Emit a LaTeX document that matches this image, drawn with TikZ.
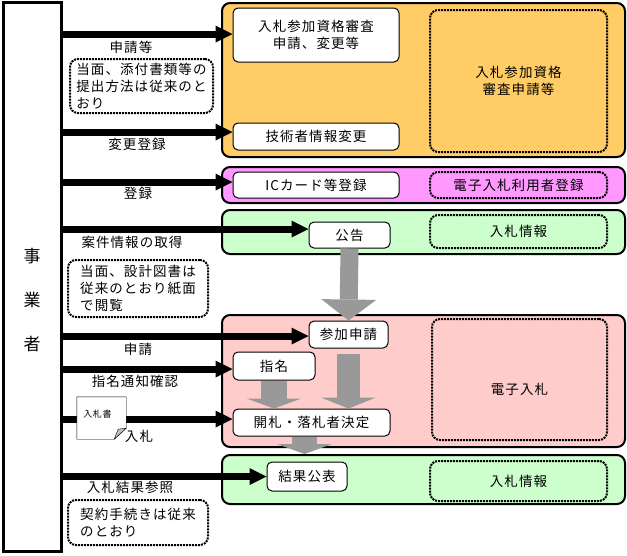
\documentclass[tikz,border=0pt]{standalone}
\usepackage{fontspec}
\setmainfont{Noto Sans CJK JP}[LetterSpace=8]
\usetikzlibrary{positioning}
\usetikzlibrary{arrows.meta}

\definecolor{qualorange}{HTML}{FFCC66}
\definecolor{userpink}{HTML}{FF99FF}
\definecolor{infogreen}{HTML}{CCFFCC}
\definecolor{bidpink}{HTML}{FFCCCC}
\definecolor{flowgray}{HTML}{999999}

\begin{document}
\begin{tikzpicture}[x=1pt,y=-1pt,font=\fontsize{13.5}{17}\selectfont,
  group/.style={draw,line width=2pt,rounded corners=8pt,minimum width=403pt},
  box/.style={draw,fill=white,line width=1pt,rounded corners=5pt,align=center},
  memo/.style={draw,line width=2pt,dash pattern=on 2pt off 1pt,rounded corners=8pt,align=center},
  note/.style={memo,align=left},
  feed/.style={line width=7pt,-{Triangle[length=17pt,width=17pt,line width=0pt]}},
  flow/.style 2 args={draw=flowgray,line width=#1,-{Triangle[length=#2,width=55pt,line width=0pt]}}]
\useasboundingbox (0,0) rectangle (627,555);

% groups
\node[group,fill=qualorange,minimum height=154pt] (grpA) at (423.5,80) {};
\node[group,fill=userpink,minimum height=36pt] (grpB) at (423.5,185) {};
\node[group,fill=infogreen,minimum height=44pt] (grpC) at (423.5,232) {};
\node[group,fill=bidpink,minimum height=132pt] (grpD) at (423.5,381) {};
\node[group,fill=infogreen,minimum height=49pt] (grpE) at (423.5,479.5) {};

% steps
\node[box,minimum width=166pt,minimum height=54pt] (shinsei) at (316,35) {入札参加資格審査\\申請、変更等};
\node[box,minimum width=166pt,minimum height=27pt] (gijutsu) at (316,136.5) {技術者情報変更};
\node[box,minimum width=166pt,minimum height=26pt] (ic) at (316,185) {ICカード等登録};
\node[box,minimum width=81pt,minimum height=26pt] (koukoku) at (349.5,235) {公告};
\node[box,minimum width=79pt,minimum height=27pt] (sanka) at (348.5,334.5) {参加申請};
\node[box,minimum width=82pt,minimum height=28pt] (shimei) at (274,366) {指名};
\node[box,minimum width=157pt,minimum height=27pt] (kaisatsu) at (311.5,422.5) {開札・落札者決定};
\node[box,minimum width=80pt,minimum height=29pt] (kekka) at (307,476.5) {結果公表};

% systems
\node[memo,minimum width=177pt,minimum height=142pt] (sysA) at (518.5,81) {入札参加資格\\審査申請等};
\node[memo,minimum width=177pt,minimum height=26pt] (sysB) at (518.5,185) {電子入札利用者登録};
\node[memo,minimum width=177pt,minimum height=33pt] (sysC) at (518.5,231.5) {入札情報};
\node[memo,minimum width=175pt,minimum height=121pt,label={[yshift=-10pt]center:電子入札}] (sysD) at (519.5,379.5) {};
\node[memo,minimum width=177pt,minimum height=40pt] (sysE) at (518.5,481) {入札情報};

% bidder
\node[draw,line width=3pt,minimum width=58pt,minimum height=549pt,
  label={[yshift=-24pt,align=center,font=\fontsize{17}{44}\selectfont]center:事\\業\\者}] (biz) at (32,276.5) {};

% notes
\node[note,minimum width=143pt,minimum height=54pt] (note1) at (141.5,86) {当面、添付書類等の\\提出方法は従来のと\\おり};
\node[note,minimum width=140pt,minimum height=57pt] (note2) at (138,288.5) {当面、設計図書は\\従来のとおり紙面\\で閲覧};
\node[note,minimum width=140pt,minimum height=45pt] (note3) at (138,522.5) {契約手続きは従来\\のとおり};

% flow between steps
\draw[flow={18pt}{21pt}] (koukoku.south) -- (sanka.north);
\draw[flow={26pt}{10pt}] (shimei.south) -- (shimei.south |- kaisatsu.north);
\draw[flow={23pt}{11pt}] ([yshift=-5pt]sanka.south) -- (sanka.south |- kaisatsu.north);
\draw[flow={25pt}{10pt}] ([xshift=-7pt]kaisatsu.south) -- ([xshift=-7pt]kaisatsu.south |- grpE.north);

% bidder actions
\draw[feed] ([yshift=1pt]shinsei.west -| biz.east) -- ([yshift=1pt]shinsei.west);
\draw[feed] ([yshift=4.5pt]gijutsu.west -| biz.east) -- ([yshift=4.5pt]gijutsu.west);
\draw[feed] ([yshift=3pt]ic.west -| biz.east) -- ([yshift=3pt]ic.west);
\draw[feed] ([yshift=6pt]koukoku.west -| biz.east) -- ([yshift=6pt]koukoku.west);
\draw[feed] ([yshift=-1.5pt]sanka.west -| biz.east) -- ([yshift=-1.5pt]sanka.west);
\draw[feed] ([yshift=-3pt]shimei.west -| biz.east) -- ([yshift=-3pt]shimei.west);
\draw[feed] ([yshift=3.5pt]kaisatsu.west -| biz.east) -- ([yshift=3.5pt]kaisatsu.west);
\draw[feed] (kekka.west -| biz.east) -- (kekka.west);

\node (lblA) at (131,47) {申請等};
\node (lblB) at (137,144) {変更登録};
\node (lblC) at (138,193) {登録};
\node (lblD) at (132,242) {案件情報の取得};
\node (lblE) at (138,349) {申請};
\node (lblF) at (135,381) {指名通知確認};
\node (lblG) at (139,436) {入札};
\node (lblH) at (130,487) {入札結果参照};

% bid form
\node[minimum width=49pt,minimum height=42pt] (doc) at (101.5,418) {};
\filldraw[fill=white] (doc.north west) -- (doc.north east) -- ([yshift=11pt]doc.south east)
  -- ([xshift=-12pt]doc.south east) -- (doc.south west) -- cycle;
\filldraw[fill=gray!50] ([xshift=-12pt]doc.south east) -- ([yshift=11pt]doc.south east)
  -- ([xshift=-8pt,yshift=10pt]doc.south east) -- cycle;
\node[font=\fontsize{9}{10}\selectfont] (doctext) at ([xshift=-4pt,yshift=4pt]doc.center) {入札書};
\end{tikzpicture}
\end{document}
